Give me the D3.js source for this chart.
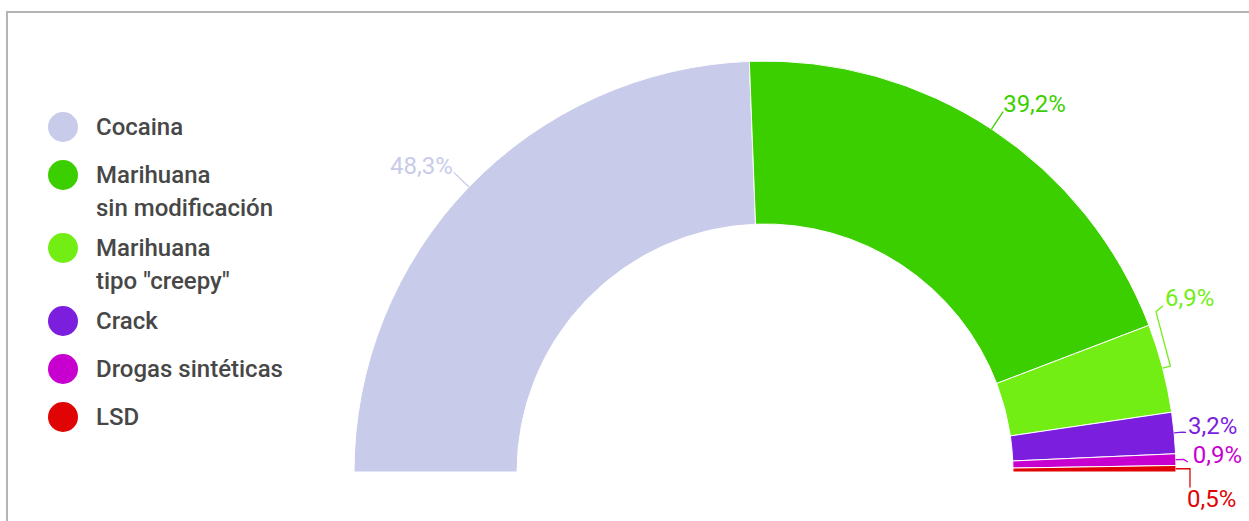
<!DOCTYPE html>
<html>
<head>
<meta charset="utf-8">
<script src="https://cdn.jsdelivr.net/npm/d3@7"></script>
<style>
  body { margin: 0; background: #fff; }
  svg { display: block; font-family: Roboto, "Noto Sans", sans-serif; }
</style>
</head>
<body>
<div id="chart"></div>
<script>
(function() {
  // data
  var categories = ["Cocaina", "Marihuana sin modificación", "Marihuana tipo \"creepy\"", "Crack", "Drogas sintéticas", "LSD"];
  var legendLines = [["Cocaina"], ["Marihuana", "sin modificación"], ["Marihuana", "tipo \"creepy\""], ["Crack"], ["Drogas sintéticas"], ["LSD"]];
  var values = [48.3, 39.2, 6.9, 3.2, 0.9, 0.5];
  var valueLabels = ["48,3%", "39,2%", "6,9%", "3,2%", "0,9%", "0,5%"];
  var colors = ["#c8cbea", "#3ccf00", "#72ee14", "#7c1ede", "#c800cf", "#e00404"];

  var width = 1249,
      height = 521,
      cx = 765,
      cy = 472,
      outerR = 411,
      innerR = 248;

  // label nudges (relative to the radial default spot) and text offsets from leader end
  var labelLayout = [
    { dx: 0,   dy: 0,   tx: -1, ty: 2,  anchor: "end" },
    { dx: 0,   dy: 0,   tx: 0,  ty: 0,  anchor: "start" },
    { dx: -27, dy: -51, tx: 9,  ty: -6, anchor: "start", tail: [7, -6] },
    { dx: -9,  dy: 1.5, tx: 2,  ty: 2,  anchor: "start" },
    { dx: -9,  dy: 3,   tx: 5,  ty: 1,  anchor: "start" },
    { dx: -7,  dy: 19,  tx: -3, ty: 19, anchor: "start", square: true }
  ];

  var svg = d3.select("#chart").append("svg")
      .attr("width", width)
      .attr("height", height);

  // frame
  svg.append("rect")
      .attr("x", 7)
      .attr("y", 12)
      .attr("width", width + 20)
      .attr("height", height + 20)
      .attr("fill", "none")
      .attr("stroke", "#b4b4b4")
      .attr("stroke-width", 2);

  var rows = categories.map((c, i) => ({ name: c, value: values[i], label: valueLabels[i], color: colors[i], lines: legendLines[i], layout: labelLayout[i] }));

  var pie = d3.pie()
      .sort(null)
      .value(d => d.value)
      .startAngle(-Math.PI / 2)
      .endAngle(Math.PI / 2);

  var arc = d3.arc()
      .innerRadius(innerR)
      .outerRadius(outerR);

  var arcs = pie(rows);

  var g = svg.append("g")
      .attr("transform", "translate(" + cx + "," + cy + ")");

  g.selectAll("path.slice")
      .data(arcs)
    .enter().append("path")
      .attr("class", "slice")
      .attr("d", arc)
      .attr("fill", d => d.data.color)
      .attr("stroke", "#fff")
      .attr("stroke-width", 1);

  function polar(a, r) {
    return [r * Math.sin(a), -r * Math.cos(a)];
  }

  // labels with leader lines
  var labels = g.selectAll("g.label")
      .data(arcs)
    .enter().append("g")
      .attr("class", "label");

  labels.each(function(d) {
    var sel = d3.select(this),
        L = d.data.layout,
        mid = (d.startAngle + d.endAngle) / 2,
        p0 = polar(mid, outerR),
        pe = polar(mid, outerR + 8),
        p1 = polar(mid, outerR + 21),
        a = [p1[0] + L.dx, p1[1] + L.dy];

    var pts;
    if (L.dx === 0 && L.dy === 0) pts = [p0, a];
    else if (L.square) pts = [p0, [a[0], p0[1]], a];
    else pts = [p0, pe, a];
    if (L.tail) pts.push([a[0] + L.tail[0], a[1] + L.tail[1]]);

    sel.append("path")
        .attr("d", d3.line()(pts))
        .attr("fill", "none")
        .attr("stroke", d.data.color)
        .attr("stroke-width", 1.3);

    sel.append("text")
        .attr("x", a[0] + L.tx)
        .attr("y", a[1] + L.ty)
        .attr("text-anchor", L.anchor)
        .attr("font-size", "24px")
        .attr("fill", d.data.color)
        .text(d.data.label);
  });

  // legend
  var legend = svg.append("g");

  var y = 127;
  rows.forEach(function(r) {
    var item = legend.append("g");
    item.append("circle")
        .attr("cx", 63)
        .attr("cy", y)
        .attr("r", 15)
        .attr("fill", r.color);
    item.append("text")
        .attr("x", 96)
        .attr("y", y + 8)
        .attr("font-size", "24px")
        .attr("font-weight", 500)
        .attr("fill", "#474747")
      .selectAll("tspan")
        .data(r.lines)
      .enter().append("tspan")
        .attr("x", 96)
        .attr("dy", (l, i) => i === 0 ? 0 : 33)
        .text(l => l);
    y += 48 + (r.lines.length - 1) * 25;
  });
})();
</script>
</body>
</html>
